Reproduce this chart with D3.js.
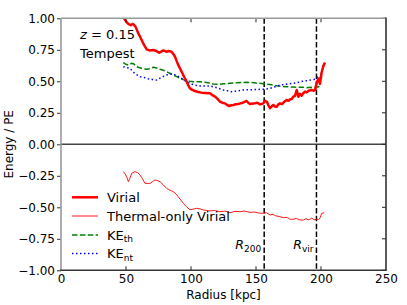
<!DOCTYPE html>
<html><head><meta charset="utf-8">
<script src="https://cdn.jsdelivr.net/npm/d3@7"></script>
<style>body{margin:0;background:#fff}svg{display:block;font-family:"DejaVu Sans",sans-serif}</style>
</head><body><svg id="c" width="407" height="305"></svg>
<script>
const virialR=[47.5,48.5,50,51.8,53.6,55,56,57.5,59.5,61.5,63.3,65,65.9,68,71,73.5,75.6,77,78.7,81,83,85,86.5,87.7,89,90.2,92.8,95,96.7,98,99.2,101,103,105.5,108,111,114.6,116.5,118.5,120.5,122.3,124,126,128,129.5,131,132.6,134.5,136.4,138,140,141.5,142.8,144,145.4,147,149.2,151,153,154.5,155.6,157,158.5,159.5,160.8,162,163.3,164.5,165.9,167,168.5,170,171.5,173.6,175,176.2,177.5,178.7,180,181.3,182.6,183.8,185,186.3,187.7,189,190.5,192.8,194,195.4,196.7,198,199.2,200.5,201.8,203];
const virialV=[1.03,1.0,0.975,0.955,0.945,0.955,0.95,0.93,0.88,0.84,0.80,0.77,0.754,0.745,0.748,0.74,0.727,0.735,0.745,0.735,0.74,0.735,0.715,0.695,0.66,0.63,0.576,0.53,0.497,0.465,0.444,0.432,0.423,0.415,0.41,0.408,0.405,0.39,0.378,0.36,0.338,0.33,0.325,0.31,0.304,0.31,0.312,0.318,0.32,0.325,0.33,0.338,0.344,0.33,0.32,0.322,0.325,0.33,0.317,0.32,0.325,0.346,0.335,0.31,0.286,0.3,0.312,0.3,0.298,0.315,0.325,0.318,0.335,0.352,0.345,0.357,0.36,0.378,0.385,0.431,0.378,0.40,0.385,0.405,0.418,0.412,0.425,0.431,0.425,0.43,0.49,0.52,0.48,0.57,0.62,0.65];
const thermR=[48,49.3,50.5,51.8,53,54.4,56.9,59,60.8,62.5,64.6,68.5,70.5,72.3,74,76.2,78.5,81.3,84,86.4,88.5,90.2,92,94.1,96.5,99.2,101.5,104.4,107,109.5,112,114.6,118,122,126,130,134,137.7,141,145.4,149,152,155.6,158,160.8,163,165,168.5,171,174,176,178.7,181,183.8,186.4,188.5,190,191.5,193,194.5,196.7,198,199.2,200.5,202.5];
const thermV=[-0.217,-0.235,-0.257,-0.297,-0.27,-0.23,-0.217,-0.225,-0.244,-0.27,-0.31,-0.31,-0.295,-0.283,-0.287,-0.297,-0.32,-0.35,-0.365,-0.376,-0.395,-0.416,-0.44,-0.468,-0.495,-0.52,-0.515,-0.508,-0.513,-0.521,-0.525,-0.529,-0.525,-0.535,-0.53,-0.543,-0.532,-0.535,-0.53,-0.54,-0.538,-0.545,-0.548,-0.543,-0.561,-0.556,-0.567,-0.575,-0.582,-0.58,-0.595,-0.595,-0.588,-0.601,-0.601,-0.59,-0.6,-0.595,-0.585,-0.6,-0.595,-0.598,-0.587,-0.548,-0.543];
const kethR=[47.9,50,51.8,53,54.4,56,58.2,60,62,64,65.9,68,71,73.5,76.2,78.7,81.3,84,86.4,89,91.5,94,96.7,99,101.8,104,106.9,110,113.3,117,121,125,130,135,139,142.8,147,150,153,158,162,166,170,173.6,178,183.8,186,189,192,195.4,198,199.7];
const kethV=[0.648,0.635,0.629,0.636,0.643,0.638,0.616,0.61,0.603,0.598,0.595,0.6,0.611,0.606,0.595,0.588,0.576,0.562,0.55,0.537,0.524,0.513,0.505,0.5,0.497,0.497,0.497,0.492,0.489,0.478,0.476,0.48,0.484,0.488,0.49,0.492,0.49,0.486,0.484,0.478,0.472,0.465,0.46,0.457,0.455,0.452,0.452,0.449,0.452,0.447,0.457,0.47];
const kentR=[47.9,50,53,55,57,60.8,64,67,70,73.6,77,81.3,84,86.4,89,92.8,96,99.2,103,107,111,114.6,117,121,124.9,128,131.3,135,140.2,145,150,153,157,160.8,164,168.5,172,175,178.7,182,186,189,192,195.4,197.9,199.2,200.5,201.8];
const kentV=[0.616,0.61,0.603,0.58,0.56,0.537,0.53,0.52,0.515,0.51,0.53,0.55,0.556,0.558,0.545,0.524,0.5,0.484,0.47,0.463,0.463,0.463,0.457,0.445,0.431,0.425,0.418,0.422,0.431,0.433,0.435,0.436,0.436,0.444,0.455,0.47,0.475,0.48,0.484,0.49,0.5,0.505,0.51,0.516,0.536,0.524,0.576,0.629];
const xTicks=[0,50,100,150,200,250];
const yTicks=[-1,-0.75,-0.5,-0.25,0,0.25,0.5,0.75,1];
const R200=156.3, Rvir=196.5;
const legendNames=["Virial","Thermal-only Virial","KE","KE"];
const legendSubs=["","","th","nt"];

const svg=d3.select("#c");
const L=61,Rt=386,T=18.3,B=270.3;
const x=d3.scaleLinear().domain([0,250]).range([L,Rt]);
const y=d3.scaleLinear().domain([-1,1]).range([B,T]);

svg.append("defs").append("clipPath").attr("id","clip").append("rect")
  .attr("x",L).attr("y",T).attr("width",Rt-L).attr("height",B-T);

const g=svg.append("g").attr("clip-path","url(#clip)");
const line=d3.line().x(d=>x(d[0])).y(d=>y(d[1]));
const zip=(a,b)=>a.map((v,i)=>[v,b[i]]);

g.append("line").attr("x1",L).attr("x2",Rt).attr("y1",y(0)).attr("y2",y(0)).attr("stroke","#444").attr("stroke-width",1.5);
[R200,Rvir].forEach(r=>g.append("line").attr("x1",x(r)).attr("x2",x(r)).attr("y1",T).attr("y2",B)
  .attr("stroke","#000").attr("stroke-width",1.5).attr("stroke-dasharray","5.5,2.4"));

g.append("path").datum(zip(kethR,kethV)).attr("d",line).attr("fill","none").attr("stroke","green").attr("stroke-width",1.5).attr("stroke-dasharray","5.5,2.4");
g.append("path").datum(zip(kentR,kentV)).attr("d",line).attr("fill","none").attr("stroke","blue").attr("stroke-width",1.5).attr("stroke-dasharray","1.5,2.5");
g.append("path").datum(zip(thermR,thermV)).attr("d",line).attr("fill","none").attr("stroke","red").attr("stroke-width",0.9);
g.append("path").datum(zip(virialR,virialV)).attr("d",line).attr("fill","none").attr("stroke","red").attr("stroke-width",2.5).attr("stroke-linejoin","round");

const ax=svg.append("g").attr("font-size",12).attr("fill","#000");
ax.append("g").attr("transform",`translate(0,${B})`).call(d3.axisBottom(x).tickValues(xTicks).tickSize(0).tickPadding(4))
  .call(s=>{s.select(".domain").remove();s.selectAll("text").attr("font-size",12).attr("font-family","DejaVu Sans");});
ax.append("g").attr("transform",`translate(${L},0)`).call(d3.axisLeft(y).tickValues(yTicks).tickSize(4).tickPadding(2).tickFormat(d3.format(".2f")))
  .call(s=>{s.select(".domain").remove();s.selectAll("line").attr("stroke","#333").attr("stroke-width",1);s.selectAll("text").attr("font-size",12).attr("font-family","DejaVu Sans");});
xTicks.slice(1,-1).forEach(v=>{
  svg.append("line").attr("x1",x(v)).attr("x2",x(v)).attr("y1",B).attr("y2",B-4).attr("stroke","#222").attr("stroke-width",1);
  svg.append("line").attr("x1",x(v)).attr("x2",x(v)).attr("y1",T).attr("y2",T+4).attr("stroke","#222").attr("stroke-width",1);
});
yTicks.forEach(v=>svg.append("line").attr("x1",Rt).attr("x2",Rt-4).attr("y1",y(v)).attr("y2",y(v)).attr("stroke","#222").attr("stroke-width",1));
svg.append("line").attr("x1",L).attr("x2",L).attr("y1",T).attr("y2",B).attr("stroke","#999").attr("stroke-width",1.6);
svg.append("line").attr("x1",L).attr("x2",Rt).attr("y1",T).attr("y2",T).attr("stroke","#999").attr("stroke-width",1.6);
svg.append("line").attr("x1",Rt).attr("x2",Rt).attr("y1",T-0.8).attr("y2",B+0.8).attr("stroke","#333").attr("stroke-width",1.6);
svg.append("line").attr("x1",L-0.8).attr("x2",Rt).attr("y1",B).attr("y2",B).attr("stroke","#333").attr("stroke-width",1.6);

svg.append("text").attr("x",(L+Rt)/2).attr("y",298.5).attr("text-anchor","middle").attr("font-size",12).text("Radius [kpc]");
svg.append("text").attr("transform",`translate(13,${(T+B)/2}) rotate(-90)`).attr("text-anchor","middle").attr("font-size",12).text("Energy / PE");

const z=svg.append("text").attr("x",80).attr("y",39).attr("font-size",13);
z.append("tspan").attr("font-style","italic").text("z");
z.append("tspan").text(" = 0.15");
svg.append("text").attr("x",80).attr("y",58).attr("font-size",13).text("Tempest");

function rlab(r,sub){
  const t=svg.append("text").attr("x",x(r)-3).attr("y",249).attr("text-anchor","end").attr("font-size",12.5);
  t.append("tspan").attr("font-style","italic").text("R");
  t.append("tspan").attr("font-size",9).attr("dy",2.5).text(sub);
}
rlab(R200,"200"); rlab(Rvir,"vir");

const lg=svg.append("g");
const rows=[197.3,216,235,253.5];
const styles=[{c:"red",w:2.5,d:null},{c:"red",w:0.9,d:null},{c:"green",w:1.5,d:"5.5,2.4"},{c:"blue",w:1.5,d:"1.5,2.5"}];
rows.forEach((ry,i)=>{
  const s=styles[i];
  const l=lg.append("line").attr("x1",72).attr("x2",98).attr("y1",ry).attr("y2",ry).attr("stroke",s.c).attr("stroke-width",s.w);
  if(s.d) l.attr("stroke-dasharray",s.d);
  const t=lg.append("text").attr("x",107).attr("y",ry+4.5).attr("font-size",13).text(legendNames[i]);
  if(legendSubs[i]) t.append("tspan").attr("font-size",9).attr("dy",2.5).text(legendSubs[i]);
});
</script></body></html>
